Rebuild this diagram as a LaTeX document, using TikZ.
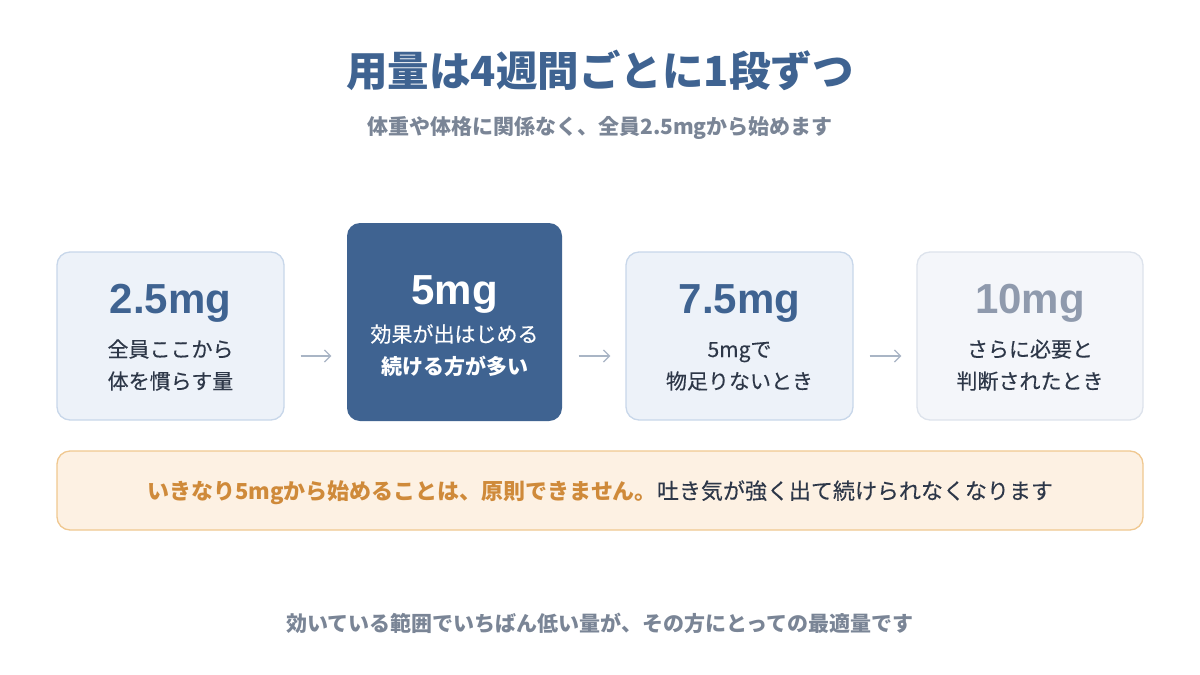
\documentclass[tikz,border=0pt]{standalone}
\usepackage{fontspec}
\setmainfont{Noto Sans CJK JP}
\newfontfamily\dosefont{Liberation Sans}
\usetikzlibrary{arrows.meta,calc}
\definecolor{navy}{HTML}{3F6391}
\definecolor{subgray}{HTML}{7A8596}
\definecolor{ink}{HTML}{2D3748}
\definecolor{lightfill}{HTML}{EDF2F9}
\definecolor{lightline}{HTML}{C8D7EA}
\definecolor{palefill}{HTML}{F4F6FA}
\definecolor{paleline}{HTML}{DDE3EC}
\definecolor{mutegray}{HTML}{8F9AAD}
\definecolor{arrowgray}{HTML}{A9B5C5}
\definecolor{warnfill}{HTML}{FDF1E3}
\definecolor{warnline}{HTML}{F0C890}
\definecolor{warnorange}{HTML}{CF8A3A}
\tikzset{
  card/.style={rounded corners=13pt, line width=1.3pt, inner sep=0pt},
  lightcard/.style={card, fill=lightfill, draw=lightline, minimum width=227pt, minimum height=168pt},
  palecard/.style={card, fill=palefill, draw=paleline, minimum width=226pt, minimum height=168pt},
  darkcard/.style={card, fill=navy, minimum width=215pt, minimum height=198pt},
  dose/.style={font=\dosefont\fontsize{42}{46}\selectfont\bfseries, inner sep=0pt, anchor=base},
  desc/.style={font=\fontsize{21}{24}\selectfont\addfontfeature{FakeBold=0.3}, text=ink, inner sep=0pt, anchor=base},
  flow/.style={draw=arrowgray, line width=1.3pt, -{Straight Barb[length=6pt,width=12pt]}},
}
\begin{document}
\begin{tikzpicture}[x=1pt,y=-1pt]
\useasboundingbox[fill=white] (0,0) rectangle (1200,675);
% title
\node[inner sep=0pt, anchor=base, text=navy, font=\fontsize{41.5}{44}\selectfont\bfseries] (title) at (600,86) {用量は4週間ごとに1段ずつ};
\node[inner sep=0pt, anchor=base, text=subgray, font=\fontsize{21}{24}\selectfont\bfseries] (sub) at (600,134) {体重や体格に関係なく、全員2.5mgから始めます};
% cards
\node[lightcard] (c1) at (170.5,336) {};
\node[darkcard] (c2) at (454.5,322) {};
\node[lightcard] (c3) at (739.5,336) {};
\node[palecard] (c4) at (1030,336) {};
% card texts
\node[dose, text=navy] (d1) at (170.5,313) {2.5mg};
\node[desc] (t1a) at (170.5,357) {全員ここから};
\node[desc] (t1b) at (170.5,389) {体を慣らす量};
\node[dose, text=white] (d2) at (454.5,304) {5mg};
\node[desc, text=white] (t2a) at (454.5,342) {効果が出はじめる};
\node[desc, text=white, font=\fontsize{21}{24}\selectfont\bfseries] (t2b) at (454.5,374) {続ける方が多い};
\node[dose, text=navy] (d3) at (739.5,313) {7.5mg};
\node[desc] (t3a) at (739.5,357) {5mgで};
\node[desc] (t3b) at (739.5,389) {物足りないとき};
\node[dose, text=mutegray] (d4) at (1030,313) {10mg};
\node[desc] (t4a) at (1030,357) {さらに必要と};
\node[desc] (t4b) at (1030,389) {判断されたとき};
% arrows
\coordinate (ay) at (0,356);
\draw[flow, shorten <=16pt, shorten >=15pt] (c1.east |- ay) -- (c2.west |- ay);
\draw[flow, shorten <=16pt, shorten >=15pt] (c2.east |- ay) -- (c3.west |- ay);
\draw[flow, shorten <=16pt, shorten >=15pt] (c3.east |- ay) -- (c4.west |- ay);
% warning
\node[card, fill=warnfill, draw=warnline, minimum width=1086pt, minimum height=79pt] (warn) at (600,490.5) {};
\node[inner sep=0pt, anchor=base, font=\fontsize{22}{26}\selectfont] (warntext) at (600,499) {\textcolor{warnorange}{\bfseries いきなり5mgから始めることは、原則できません。}\textcolor{ink}{\addfontfeature{FakeBold=0.3}吐き気が強く出て続けられなくなります}};
% footer
\node[inner sep=0pt, anchor=base, text=subgray, font=\fontsize{21}{24}\selectfont\bfseries] (foot) at (600,631) {効いている範囲でいちばん低い量が、その方にとっての最適量です};
\end{tikzpicture}
\end{document}
